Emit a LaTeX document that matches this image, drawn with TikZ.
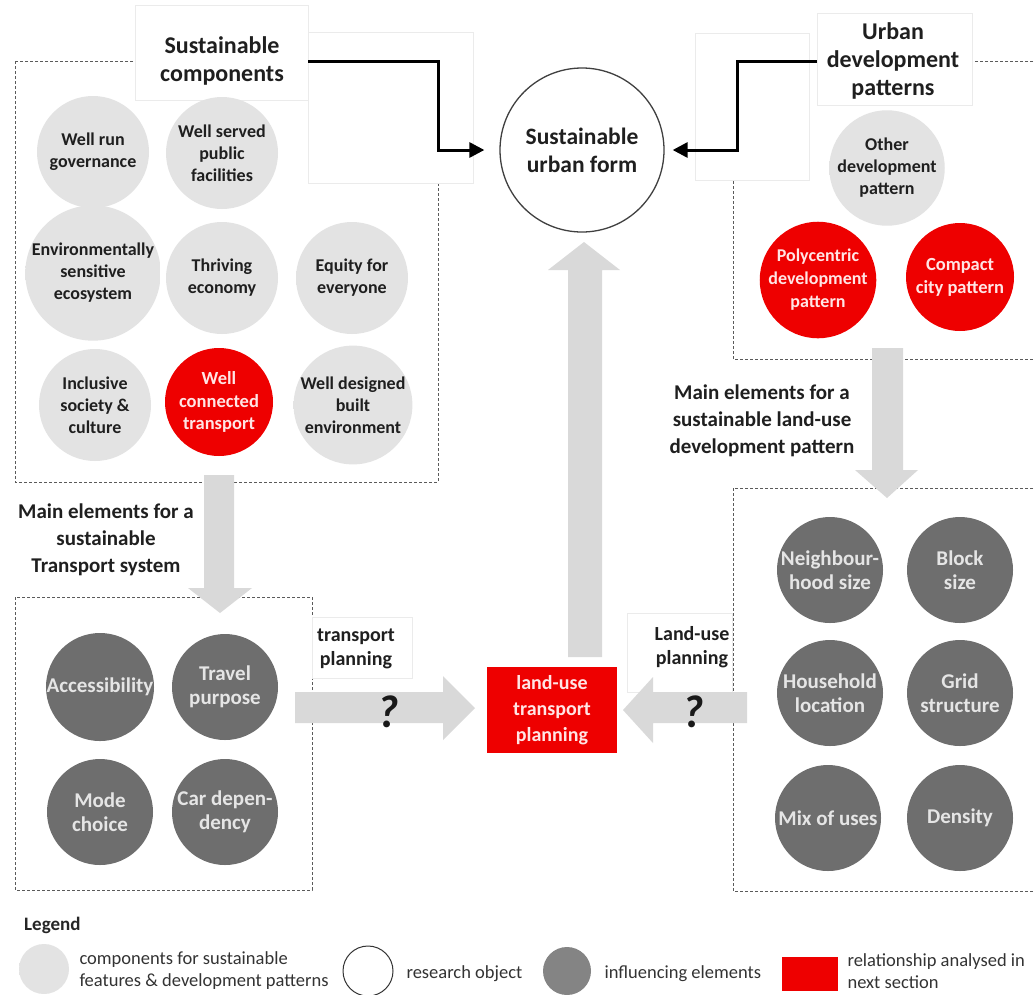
\documentclass[tikz,border=0pt]{standalone}
\usepackage{fontspec}
\setmainfont{Carlito}
\usetikzlibrary{arrows.meta}
\definecolor{lgc}{HTML}{E3E3E3}
\definecolor{dgc}{HTML}{6E6E6E}
\definecolor{rdc}{HTML}{EE0000}
\definecolor{agc}{HTML}{D9D9D9}
\definecolor{dashc}{HTML}{5A5A5A}
\definecolor{faint}{HTML}{EBEBEB}
\pgfdeclareradialshading{softlg}{\pgfpointorigin}{color(0bp)=(lgc); color(28bp)=(lgc); color(50bp)=(white)}
\newcommand{\fsz}[2]{\fontsize{#1}{#2}\selectfont}
\begin{document}
\begin{tikzpicture}[x=1pt,y=-1pt,
  dbox/.style={draw=dashc, line width=1pt, dash pattern=on 3pt off 2pt},
  fbox/.style={draw=faint, line width=0.7pt, fill=white},
  lcirc/.style={circle, shade, shading=softlg, minimum size=112pt, inner sep=0pt, align=center, font=\fsz{18}{22}\bfseries, text=black!88},
  rcirc/.style={circle, fill=rdc, minimum size=108pt, inner sep=0pt, align=center, font=\fsz{18.5}{22.5}\bfseries, text=white!90!red},
  dcirc/.style={circle, fill=dgc, minimum size=106pt, inner sep=0pt, align=center, font=\fsz{21}{24}\bfseries, text=white!90!black},
  ttl/.style={align=center, font=\fsz{24}{28}\bfseries, text=black!88, inner sep=0pt},
  sub/.style={align=center, font=\fsz{21}{27}\bfseries, text=black!88},
  lab/.style={align=center, font=\fsz{20}{24}\bfseries, text=black!88},
  conn/.style={line width=3pt, -{Triangle[length=15pt,width=15pt]}},
  garrow/.style={fill=agc, draw=none},
  qm/.style={font=\fsz{46}{46}\bfseries\itshape, text=black!90},
  leg/.style={align=left, anchor=west, font=\fsz{18.5}{22}, text=black!80},
]
\fill[white] (0,0) rectangle (1035,994);
\useasboundingbox (0,0) rectangle (1035,994);

% dashed group boxes
\draw[dbox] (15,61) rectangle (438,482);
\draw[dbox] (733,61) rectangle (1045,359);
\draw[dbox] (15,597) rectangle (312,890);
\draw[dbox] (733,488) rectangle (1045,891);

% faint text boxes
\draw[fbox] (135,5) rectangle (308,100);
\draw[fbox] (308,32) rectangle (473,183);
\draw[fbox] (817,13) rectangle (972,105);
\draw[fbox] (695,33) rectangle (809,180);
\draw[fbox] (312,617) rectangle (412,678);
\draw[fbox] (627,613) rectangle (732,692);

% grey block arrows
\fill[garrow] (204,475) -- (234,475) -- (234,588) -- (252,588) -- (220,613) -- (188,588) -- (204,588) -- cycle;
\fill[garrow] (872,348) -- (903,348) -- (903,470) -- (918,470) -- (887,498) -- (855,470) -- (872,470) -- cycle;
\fill[garrow] (568,657) -- (602,657) -- (602,270) -- (620,270) -- (584,242) -- (548,270) -- (568,270) -- cycle;
\fill[garrow] (295,692) -- (443,692) -- (443,676) -- (475,708) -- (443,740) -- (443,723) -- (295,723) -- cycle;
\fill[garrow] (747,692) -- (653,692) -- (653,677) -- (623,710) -- (653,743) -- (653,723) -- (747,723) -- cycle;

% titles
\node[ttl, minimum width=172pt] (sc) at (222,61) {Sustainable\\components};
\node[ttl, minimum width=152pt] (ud) at (893,61) {Urban\\development\\patterns};

% research object
\node[circle, draw=black!75, line width=1.3pt, minimum size=164pt, inner sep=0pt, align=center,
      font=\fsz{23.5}{28}\bfseries, text=black!88] (usf) at (582,150) {Sustainable\\urban form};

% sustainable components
\node[lcirc] (c1) at (93,152) {Well run\\governance};
\node[lcirc] (c2) at (222,153) {Well served\\public\\facilities};
\node[lcirc] (c3) at (93,273) {Environmentally\\sensitive\\ecosystem};
\node[lcirc] (c4) at (222,278) {Thriving\\economy};
\node[lcirc] (c5) at (352,278) {Equity for\\everyone};
\node[lcirc] (c6) at (95,405) {Inclusive\\society \&\\culture};
\node[rcirc] (c7) at (219,402) {Well\\connected\\transport};
\node[lcirc] (c8) at (353,405) {Well designed\\built\\environment};

% urban development patterns
\node[lcirc] (p1) at (887,168) {Other\\development\\pattern};
\node[rcirc, font=\fsz{18}{23}\bfseries] (p2) at (818,280) {Polycentric\\development\\pattern};
\node[rcirc, font=\fsz{18.5}{23}\bfseries] (p3) at (960,277) {Compact\\city pattern};

% sub headings
\node[sub] (mt) at (106,540) {Main elements for a\\sustainable\\Transport system};
\node[sub] (ml) at (762,421) {Main elements for a\\sustainable land-use\\development pattern};

% transport elements
\node[dcirc] (t1) at (100,687) {Accessibility};
\node[dcirc] (t2) at (225,687) {Travel\\purpose};
\node[dcirc] (t3) at (100,812) {Mode\\choice};
\node[dcirc] (t4) at (225,812) {Car depen-\\dency};

% land-use elements
\node[dcirc] (l1) at (830,570) {Neighbour-\\hood size};
\node[dcirc] (l2) at (960,570) {Block\\size};
\node[dcirc] (l3) at (830,693) {Household\\location};
\node[dcirc] (l4) at (960,693) {Grid\\structure};
\node[dcirc] (l5) at (828,818) {Mix of uses};
\node[dcirc] (l6) at (960,818) {Density};

% centre
\node[rectangle, fill=rdc, minimum width=130pt, minimum height=86pt, inner sep=0pt, align=center,
      font=\fsz{20}{26}\bfseries, text=white!90!red] (lutp) at (552,710) {land-use\\transport\\planning};
\node[lab] (tp) at (356,649) {transport\\planning};
\node[lab] (lp) at (692,647) {Land-use\\planning};
\node[qm] (q1) at (388,712) {?};
\node[qm] (q2) at (693,712) {?};

% black connectors
\draw[conn, shorten >=15pt] (sc.east) -- (438,61) |- (usf.west);
\draw[conn, shorten >=8pt] (ud.west) -- (737,61) |- (usf.east);

% legend
\node[font=\fsz{19}{22}\bfseries, text=black!85, anchor=west, inner sep=0pt] (lg) at (24,925) {Legend};
\node[circle, shade, shading=softlg, minimum size=50pt, inner sep=0pt] (lg1) at (44,969) {};
\node[leg] (lt1) at (76,971) {components for sustainable\\features \& development patterns};
\node[circle, draw=black!80, line width=1pt, minimum size=50pt, inner sep=0pt] (lg2) at (368,971) {};
\node[leg] (lt2) at (403,974) {research object};
\node[circle, fill=dgc!85, minimum size=48pt, inner sep=0pt] (lg3) at (567,971) {};
\node[leg] (lt3) at (601,974) {influencing elements};
\node[rectangle, fill=rdc, minimum width=56pt, minimum height=34pt, inner sep=0pt] (lg4) at (810,974) {};
\node[leg] (lt4) at (844,971) {relationship analysed in\\next section};
\end{tikzpicture}
\end{document}
